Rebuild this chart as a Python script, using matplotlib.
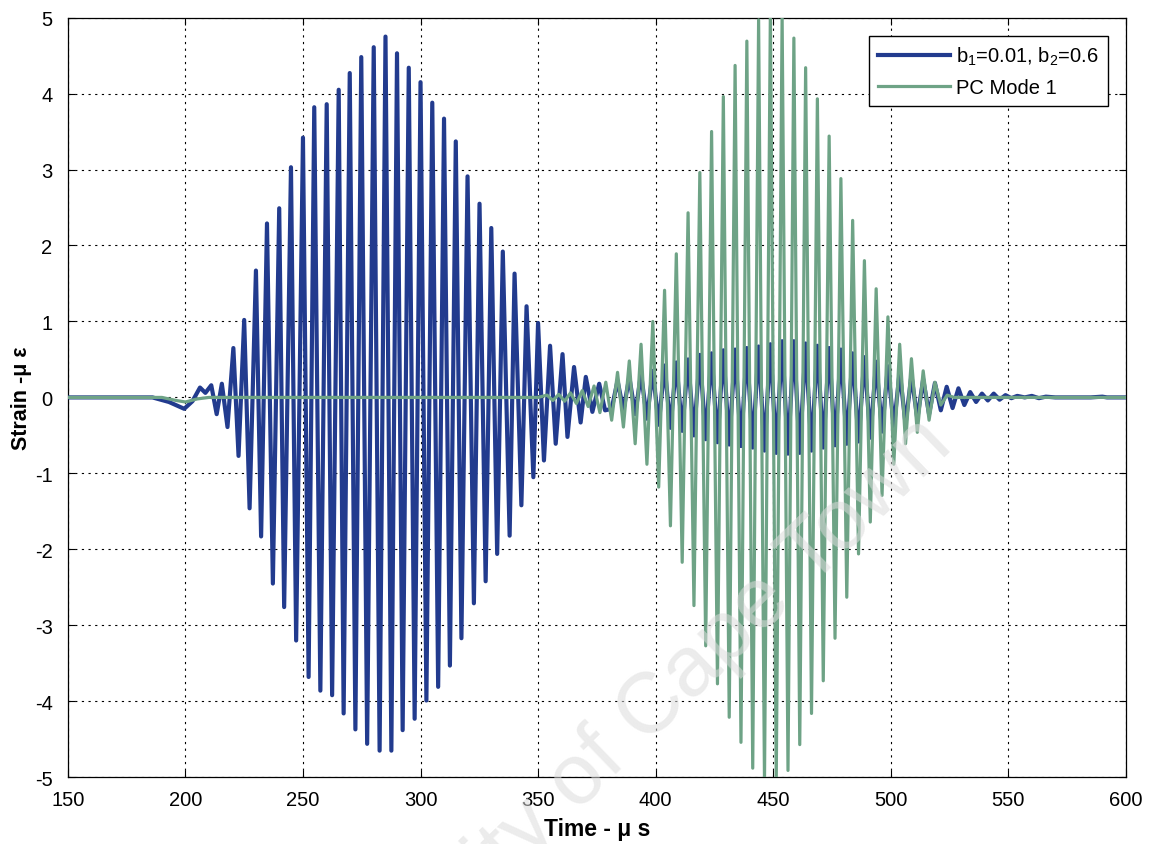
import matplotlib
matplotlib.use("Agg")
import matplotlib.pyplot as plt

plt.rcParams["font.family"] = ["Liberation Sans", "DejaVu Sans"]
plt.rcParams["mathtext.fontset"] = "custom"
plt.rcParams["mathtext.rm"] = "Liberation Sans"
plt.rcParams["mathtext.it"] = "Liberation Sans:italic"
plt.rcParams["axes.unicode_minus"] = False

# Strain response, extrema of each oscillation (time in us, strain in micro-strain)
blue_t = [150, 186, 193, 199.5, 203, 206.2, 208.5, 211, 213.3, 215.5,
          217.9, 220.4, 222.6, 225.0, 227.3, 230.0, 232.2, 234.7, 237.2, 239.9,
          242.0, 244.9, 247.1, 250.0, 252.4, 254.8, 257.4, 260.1, 262.4, 265.2,
          267.3, 269.9, 272.3, 274.8, 277.3, 280.1, 282.6, 285.1, 287.6, 290.0,
          292.4, 295.0, 297.5, 300.0, 302.5, 305.0, 307.5, 310.0, 312.5, 315.0,
          317.4, 320.0, 322.7, 325.1, 327.7, 330.1, 332.6, 335.0, 337.9, 340.0,
          342.9, 345.1, 348.0, 350.0, 352.5, 355.1, 357.5, 360.4, 362.5, 365.3,
          368.1, 370.3, 373.1, 376.0, 378.5, 381.3, 383.8, 386.3, 388.8, 391.3,
          393.8, 396.3, 398.8, 401.3, 403.8, 406.3, 408.8, 411.3, 413.8, 416.3,
          418.8, 421.3, 423.8, 426.3, 428.8, 431.3, 433.8, 436.3, 438.8, 441.3,
          443.8, 446.3, 448.8, 451.3, 453.8, 456.3, 458.8, 461.3, 463.8, 466.3,
          468.8, 471.3, 473.8, 476.3, 478.8, 481.3, 483.8, 486.3, 488.8, 491.3,
          493.8, 496.3, 498.8, 501.3, 503.8, 506.3, 508.8, 511.3, 513.8, 516.3,
          518.8, 521.3, 523.8, 526.3, 528.8, 531.3, 533.8, 536.3, 538.8, 541.3,
          543.8, 546.3, 548.8, 551.3, 553.8, 557, 560, 563, 566, 570,
          585, 590, 592, 600]
blue_v = [0, 0, -0.06, -0.15, -0.05, 0.13, 0.06, 0.16, -0.22, 0.18,
          -0.39, 0.65, -0.77, 1.02, -1.46, 1.67, -1.83, 2.29, -2.45, 2.49,
          -2.76, 3.03, -3.20, 3.42, -3.68, 3.82, -3.86, 3.86, -3.92, 4.05,
          -4.16, 4.27, -4.37, 4.48, -4.56, 4.61, -4.65, 4.75, -4.65, 4.53,
          -4.38, 4.34, -4.23, 4.15, -3.99, 3.88, -3.81, 3.67, -3.53, 3.37,
          -3.17, 2.91, -2.71, 2.55, -2.42, 2.23, -2.06, 1.92, -1.82, 1.63,
          -1.42, 1.20, -1.05, 0.98, -0.83, 0.68, -0.61, 0.57, -0.52, 0.40,
          -0.33, 0.27, -0.19, 0.18, -0.17, -0.15, 0.22, -0.17, 0.27, -0.22,
          0.31, -0.28, 0.35, -0.36, 0.42, -0.40, 0.46, -0.44, 0.50, -0.50,
          0.56, -0.55, 0.58, -0.59, 0.62, -0.62, 0.63, -0.64, 0.65, -0.66,
          0.67, -0.70, 0.70, -0.73, 0.74, -0.74, 0.74, -0.73, 0.71, -0.70,
          0.68, -0.66, 0.65, -0.63, 0.63, -0.61, 0.58, -0.58, 0.53, -0.53,
          0.47, -0.45, 0.41, -0.40, 0.34, -0.35, 0.29, -0.28, 0.24, -0.22,
          0.19, -0.17, 0.14, -0.14, 0.12, -0.10, 0.07, -0.06, 0.05, -0.04,
          0.05, -0.03, 0.03, -0.01, 0.02, 0.0, 0.02, -0.01, 0.01, 0.0,
          0.0, 0.01, 0.0, 0.0]

# First principal-component mode
green_t = [150, 190, 196, 200, 205, 210, 350, 353.8, 356.3, 358.8,
           361.3, 363.8, 366.3, 368.8, 371.3, 373.8, 376.3, 378.8, 381.3, 383.8,
           386.3, 388.8, 391.3, 393.8, 396.3, 398.8, 401.3, 403.8, 406.3, 408.8,
           411.3, 413.8, 416.3, 418.8, 421.3, 423.8, 426.3, 428.8, 431.3, 433.8,
           436.3, 438.8, 441.3, 443.8, 446.3, 448.8, 451.3, 453.8, 456.3, 458.8,
           461.3, 463.8, 466.3, 468.8, 471.3, 473.8, 476.3, 478.8, 481.3, 483.8,
           486.3, 488.8, 491.3, 493.8, 496.3, 498.8, 501.3, 503.8, 506.3, 508.8,
           511.3, 513.8, 516.3, 518.8, 521.3, 524, 527, 600]
green_v = [0, 0, -0.04, -0.06, -0.02, 0.0, 0.0, 0.03, -0.04, 0.04,
           -0.05, 0.06, -0.08, 0.09, -0.12, 0.15, -0.20, 0.20, -0.30, 0.33,
           -0.39, 0.48, -0.61, 0.70, -0.88, 1.00, -1.18, 1.41, -1.69, 1.89,
           -2.17, 2.43, -2.74, 2.96, -3.27, 3.50, -3.77, 3.96, -4.21, 4.37,
           -4.54, 4.69, -4.88, 4.97, -5.06, 5.06, -5.04, 5.02, -4.91, 4.73,
           -4.57, 4.34, -4.16, 3.93, -3.73, 3.44, -3.17, 2.88, -2.63, 2.33,
           -2.06, 1.80, -1.64, 1.43, -1.29, 1.06, -0.88, 0.70, -0.61, 0.51,
           -0.46, 0.35, -0.30, 0.20, -0.10, 0.03, 0.0, 0.0]

x_ticks = [150, 200, 250, 300, 350, 400, 450, 500, 550, 600]
y_ticks = [-5, -4, -3, -2, -1, 0, 1, 2, 3, 4, 5]

fig = plt.figure(figsize=(11.5, 8.45), dpi=100)
ax = fig.add_axes([0.059, 0.079, 0.92, 0.899])

ax.plot(blue_t, blue_v, color="#223b8e", lw=3.0, label="b$_1$=0.01, b$_2$=0.6", zorder=3)
ax.plot(green_t, green_v, color="#6ea386", lw=2.3, label="PC Mode 1", zorder=4)

ax.set_xlim(150, 600)
ax.set_ylim(-5, 5)
ax.set_xticks(x_ticks)
ax.set_yticks(y_ticks)
ax.tick_params(direction="in", top=True, right=True, labelsize=14.5, length=5,
               width=0.8)
ax.tick_params(axis="x", pad=9)
ax.tick_params(axis="y", pad=11)
ax.grid(True, color="black", linestyle=(0, (2, 4)), linewidth=0.8)
ax.set_axisbelow(False)
for s in ax.spines.values():
    s.set_linewidth(0.9)

ax.set_xlabel("Time - μ s", fontsize=16.5, fontweight="bold", labelpad=6)
ax.set_ylabel("Strain -μ ε", fontsize=15.5, fontweight="bold", labelpad=2)

leg = ax.legend(loc="upper right", fontsize=14.5, frameon=True, fancybox=False,
                edgecolor="black", framealpha=1, handlelength=3.6,
                borderaxespad=0.9, labelspacing=0.55, handletextpad=0.3,
                borderpad=0.45)
leg.get_frame().set_linewidth(1.0)

# Faint repository watermark
fig.text(0.83, 0.47, "University of Cape Town", fontsize=62, color="#dcdcdc",
         rotation=44, rotation_mode="anchor", ha="right", va="baseline",
         alpha=0.55, zorder=0)

fig.savefig("out.png", dpi=100, facecolor="white")
